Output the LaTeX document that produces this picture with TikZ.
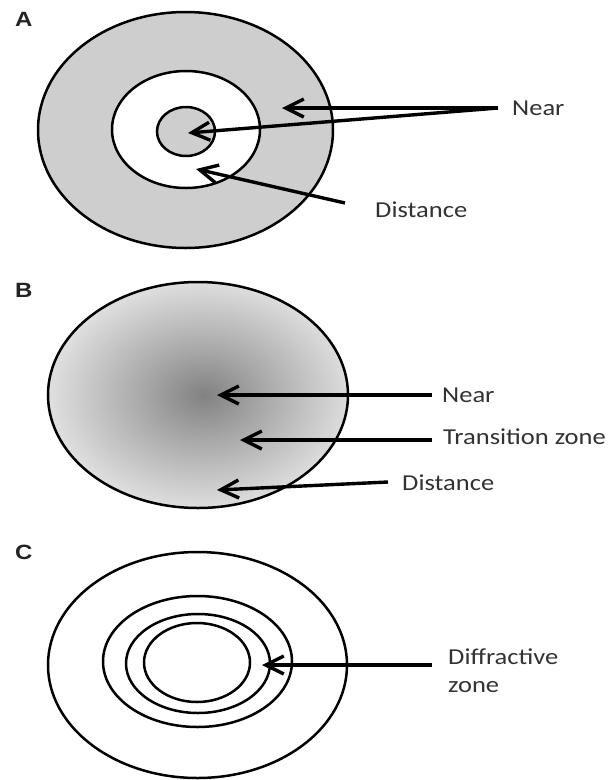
\documentclass[tikz,border=0pt]{standalone}
\usepackage{fontspec}
\usepackage{graphicx}
\setmainfont{Carlito}
\newfontfamily\panelfont{Liberation Sans}[BoldFont={Liberation Sans Bold}]
\usetikzlibrary{arrows.meta,shapes.geometric}
\definecolor{ringgray}{RGB}{206,206,206}
\definecolor{txtgray}{RGB}{50,50,50}
\definecolor{panelgray}{RGB}{35,35,35}
\definecolor{shcenter}{RGB}{130,130,130}
\definecolor{shmid}{RGB}{168,168,168}
\definecolor{shedge}{RGB}{222,222,222}
\pgfdeclareradialshading{bshade}{\pgfpoint{1bp}{0bp}}{color(0bp)=(shcenter); color(10bp)=(shmid); color(25bp)=(shedge); color(50bp)=(shedge)}
\newcommand\squash[1]{\scalebox{1}[0.86]{#1}}
\newcommand\panelsize{\fontsize{24pt}{26pt}\selectfont}
\begin{document}
\begin{tikzpicture}[x=1pt,y=-1pt,
  ring/.style={ellipse, draw=black, line width=2.5pt, inner sep=0pt, outer sep=0pt},
  lbl/.style={font=\fontsize{26.5}{28}\selectfont, text=txtgray, inner sep=0pt, anchor=west},
  panellbl/.style={text=panelgray, inner sep=0pt, anchor=west},
  arr/.style={line width=3.4pt, -{Straight Barb[length=18pt,width=18pt]}}]
\useasboundingbox (0,0) rectangle (615,780);
% ---------- Panel A ----------
\node[panellbl] (pA) at (15,19) {\panelfont\bfseries\panelsize\squash{A}};
\node[ring, fill=ringgray, minimum width=295pt, minimum height=236pt] (Aout) at (185.5,130) {};
\node[ring, fill=white, minimum width=148pt, minimum height=117pt] (Amid) at (186,129.5) {};
\node[ring, fill=ringgray, minimum width=58pt, minimum height=49pt] (Ain) at (186,131.5) {};
\node[lbl] (nearA) at (512,108) {\squash{Near}};
\node[lbl] (distA) at (375,210) {\squash{Distance}};
\coordinate (sA1) at (498,108);
\coordinate (tA1) at (282,108);
\coordinate (tA2) at (188,133);
\coordinate (sA3) at (345,203);
\coordinate (tA3) at (196,169);
\draw[arr] (sA1) -- (tA1);
\draw[arr] (sA1) -- (tA2);
\draw[arr] (sA3) -- (tA3);
% ---------- Panel B ----------
\node[panellbl] (pB) at (15,290) {\panelfont\bfseries\panelsize\squash{B}};
\node[ring, shade, shading=bshade, minimum width=300pt, minimum height=226pt] (Bell) at (198,395) {};
\node[lbl] (nearB) at (442,395) {\squash{Near}};
\node[lbl] (transB) at (443,437) {\squash{Transition zone}};
\node[lbl] (distB) at (402,483) {\squash{Distance}};
\coordinate (sB1) at (432,395);
\coordinate (tB1) at (217,395);
\coordinate (sB2) at (432,440);
\coordinate (tB2) at (240,440);
\coordinate (sB3) at (388,482);
\coordinate (tB3) at (217,490);
\draw[arr] (sB1) -- (tB1);
\draw[arr] (sB2) -- (tB2);
\draw[arr] (sB3) -- (tB3);
% ---------- Panel C ----------
\node[panellbl] (pC) at (15,552) {\panelfont\bfseries\panelsize\squash{C}};
\node[ring, minimum width=299pt, minimum height=226pt] (Cout) at (197.5,665) {};
\node[ring, minimum width=189pt, minimum height=131pt] (C2) at (197.5,661.5) {};
\node[ring, minimum width=144pt, minimum height=99pt] (C3) at (198,663.5) {};
\node[ring, minimum width=106pt, minimum height=79pt] (C4) at (197,662.5) {};
\node[lbl, align=left] (diffC) at (448,671) {\squash{Diffractive}\\\squash{zone}};
\coordinate (sC) at (432,665);
\coordinate (tC) at (262,665);
\draw[arr] (sC) -- (tC);
\end{tikzpicture}
\end{document}
